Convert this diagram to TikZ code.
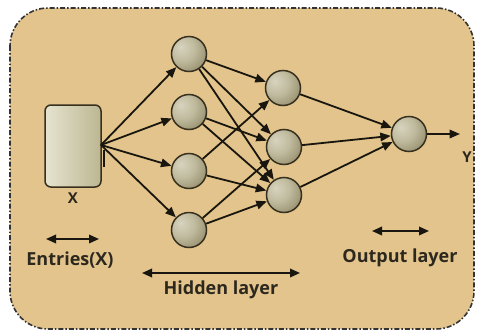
\documentclass[tikz,border=0pt]{standalone}
\usepackage{fontspec}
\setmainfont{Open Sans}
\usetikzlibrary{arrows.meta}
\definecolor{sand}{RGB}{226,196,140}
\definecolor{edgec}{RGB}{55,48,30}
\definecolor{inkc}{RGB}{25,22,15}
\definecolor{txtc}{RGB}{45,40,30}
\definecolor{rectl}{RGB}{230,228,208}
\definecolor{rectr}{RGB}{188,182,145}
\pgfdeclareradialshading{neuronshade}{\pgfpoint{-12bp}{10bp}}{%
  color(0bp)=(rgb,255:red,215;green,211;blue,190);
  color(18bp)=(rgb,255:red,192;green,187;blue,158);
  color(40bp)=(rgb,255:red,142;green,133;blue,100);
  color(55bp)=(rgb,255:red,112;green,102;blue,72);
  color(100bp)=(rgb,255:red,100;green,90;blue,60)}
\tikzset{
  neuron/.style={circle, draw=edgec, line width=1.5pt, minimum size=35pt, inner sep=0pt, shading=neuronshade},
  inbox/.style={draw=edgec, line width=1.5pt, rounded corners=6pt, minimum width=56pt, minimum height=82pt, left color=rectl, right color=rectr},
  conn/.style={draw=inkc, line width=1.8pt, -{Triangle[length=10.5pt,width=8.5pt]}},
  dbl/.style={draw=inkc, line width=1.8pt, {Triangle[length=10pt,width=8.5pt]}-{Triangle[length=10pt,width=8.5pt]}},
  lbl/.style={text=txtc, font=\bfseries\fontsize{18}{20}\selectfont, inner sep=0pt},
  xlbl/.style={text=txtc, font=\bfseries\fontsize{15}{16}\selectfont, inner sep=0pt}
}
\begin{document}
\begin{tikzpicture}[x=1pt,y=-1pt]
\useasboundingbox (0,0) rectangle (477,335);
\fill[white] (0,0) rectangle (477,335);
\path[fill=sand, draw=black!80, line width=1.6pt, rounded corners=38pt,
  dash pattern=on 5pt off 2pt on 1.5pt off 2pt] (10,8) rectangle (474,329);

\node[inbox] (in) at (73,146) {};
\node[xlbl] (xl) at (73,198) {X};
\coordinate (p) at (101,145);
\coordinate (tickA) at (104,150);
\coordinate (tickB) at (104,167);
\draw[inkc, line width=2.2pt] (tickA) -- (tickB);

\node[neuron] (h1) at (189,54) {};
\node[neuron] (h2) at (189,112) {};
\node[neuron] (h3) at (189,171) {};
\node[neuron] (h4) at (189,230) {};
\node[neuron] (g1) at (283,88) {};
\node[neuron] (g2) at (284,147) {};
\node[neuron] (g3) at (284,195) {};
\node[neuron] (o) at (409,134) {};
\coordinate (yend) at (460,134);
\node[xlbl] (yl) at (467,157) {Y};

\foreach \h in {h1,h2,h3,h4} \draw[conn] (p) -- (\h);
\draw[conn] (h1) -- (g1);
\draw[conn] (h1) -- (g2);
\draw[conn] (h1) -- (g3);
\draw[conn] (h2) -- (g2);
\draw[conn] (h2) -- (g3);
\draw[conn] (h3) -- (g1);
\draw[conn] (h3) -- (g3);
\draw[conn] (h4) -- (g2);
\draw[conn] (h4) -- (g3);
\foreach \g in {g1,g2,g3} \draw[conn] (\g) -- (o);
\draw[conn] (o) -- (yend);

\coordinate (eA) at (46,239); \coordinate (eB) at (99,239);
\draw[dbl] (eA) -- (eB);
\node[lbl] (el) at (70,260) {Entries(X)};
\coordinate (hA) at (142,273); \coordinate (hB) at (300,273);
\draw[dbl] (hA) -- (hB);
\node[lbl] (hl) at (221,290) {Hidden layer};
\coordinate (oA) at (372,231); \coordinate (oB) at (429,231);
\draw[dbl] (oA) -- (oB);
\node[lbl] (ol) at (400,258) {Output layer};
\end{tikzpicture}
\end{document}
